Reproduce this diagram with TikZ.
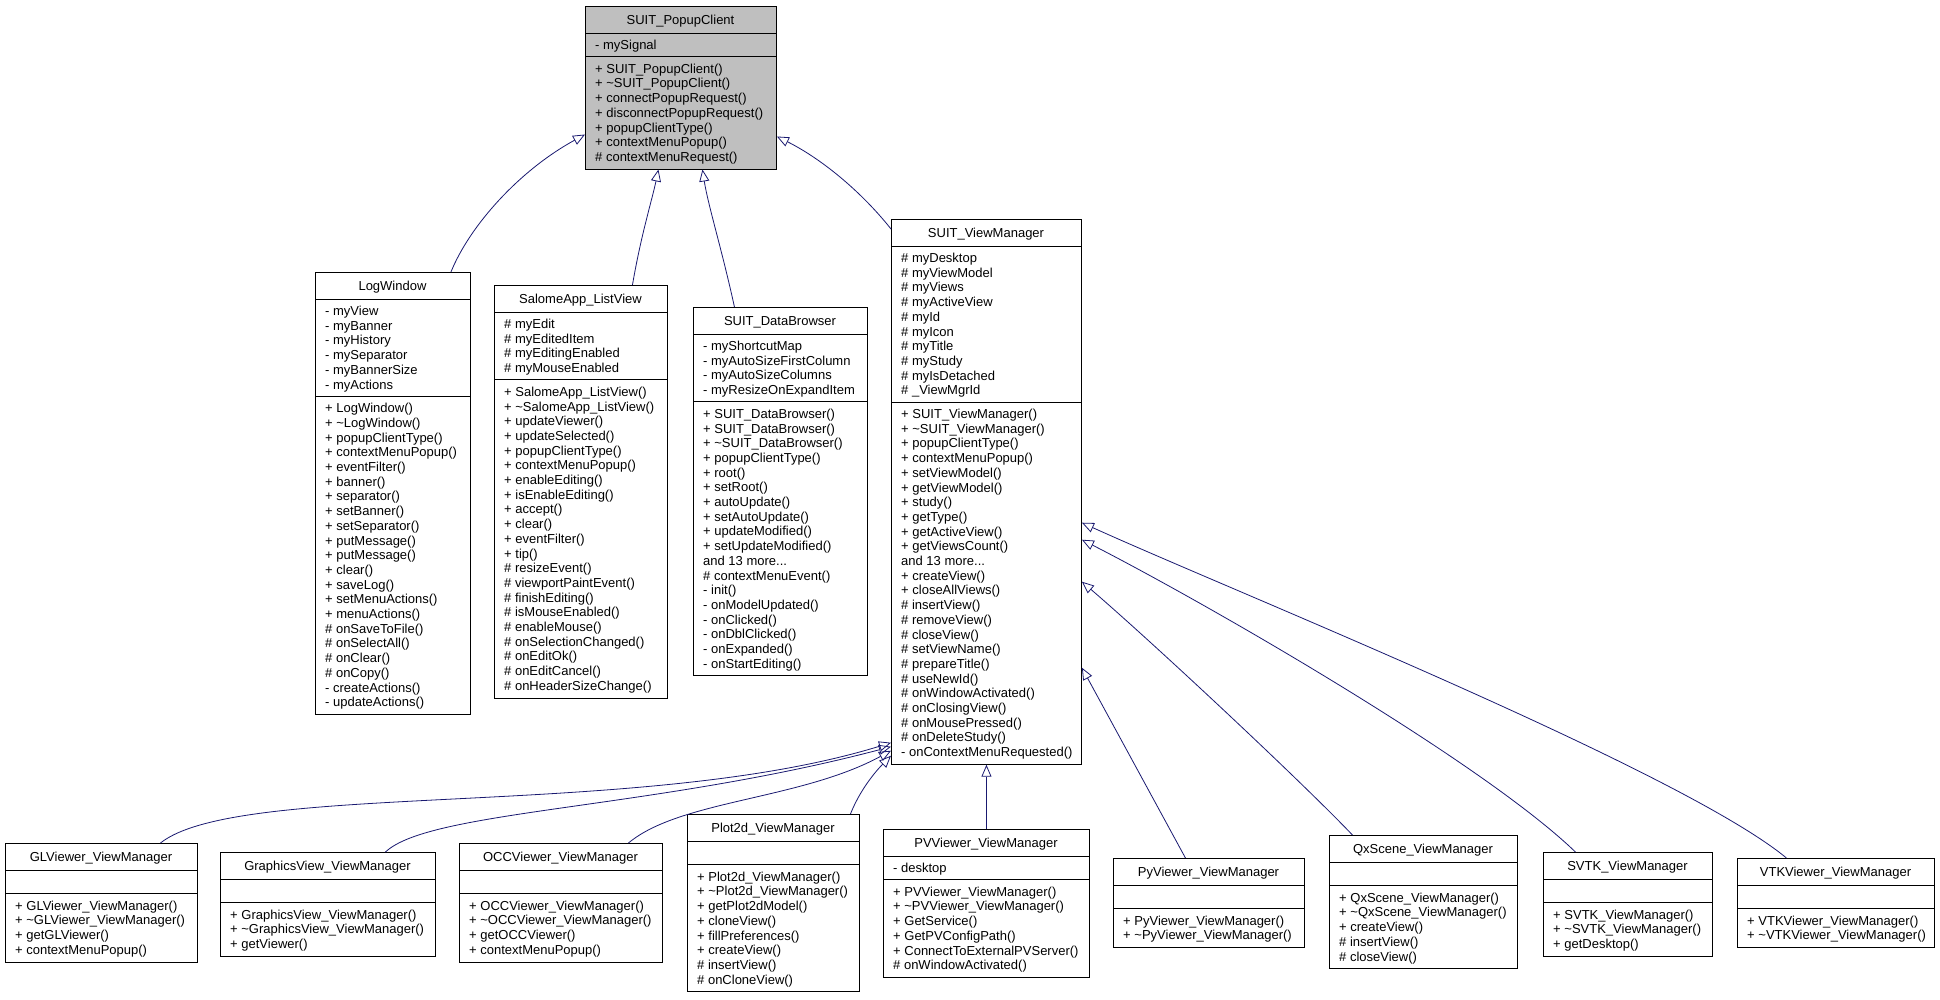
\documentclass[tikz,border=0pt]{standalone}
\usepackage{fontspec}
\setmainfont{Liberation Sans}
\usetikzlibrary{arrows.meta}
\definecolor{edgeblue}{RGB}{25,25,112}
\definecolor{boxgray}{RGB}{191,191,191}
\newcommand{\clsfont}{\fontsize{13}{14.7}\selectfont}
\def\rowh{14.7}
\def\titleh{27}
\def\secpad{9}
% name, x, y, width, #attrs, #methods, title, attrs, methods
\newcommand{\umlclass}[9]{%
  \pgfmathsetmacro\attrh{max(#5,1)*\rowh+\secpad}
  \pgfmathsetmacro\methh{#6*\rowh+\secpad}
  \node[classbox, box #1/.try, minimum width=#4, minimum height={\titleh+\attrh+\methh}] (#1) at (#2,#3) {};
  \draw[line width=0.9pt] (#2,{#3+\titleh}) -- ++(#4,0);
  \draw[line width=0.9pt] (#2,{#3+\titleh+\attrh}) -- ++(#4,0);
  \node[anchor=base] (#1-t) at ({#2+#4/2},{#3+18.2}) {#7};
  \ifnum#5>0
    \foreach \s [count=\i] in {#8}
      \node[anchor=base west] (#1-a\i) at ({#2+10},{#3+\titleh+16.5+(\i-1)*\rowh}) {\s};
  \fi
  \foreach \s [count=\i] in {#9}
    \node[anchor=base west] (#1-m\i) at ({#2+10},{#3+\titleh+\attrh+16.5+(\i-1)*\rowh}) {\s};
}
\newcommand{\tld}{\textasciitilde}
\newcommand{\more}{and 13 more...}

\begin{document}
\begin{tikzpicture}[x=1pt, y=-1pt,
    every node/.style={font=\clsfont, inner sep=0pt},
    classbox/.style={draw, line width=0.9pt, anchor=north west, inner sep=0pt},
    box pc/.style={fill=boxgray},
    inh/.style={draw=edgeblue, line width=0.8pt, -{Triangle[open, length=12pt, width=10pt]}}]
		%%%%% START %%%%%
		\useasboundingbox (0,0) rectangle (1940,999);
		
		\umlclass{pc}{585}{6}{191}{1}{7}{SUIT\_PopupClient}{- mySignal}
		  {+ SUIT\_PopupClient(), + \tld SUIT\_PopupClient(), + connectPopupRequest(), + disconnectPopupRequest(),
		   + popupClientType(), + contextMenuPopup(), \# contextMenuRequest()}
		
		\umlclass{lw}{315}{272}{155}{6}{21}{LogWindow}
		  {- myView, - myBanner, - myHistory, - mySeparator, - myBannerSize, - myActions}
		  {+ LogWindow(), + \tld LogWindow(), + popupClientType(), + contextMenuPopup(), + eventFilter(),
		   + banner(), + separator(), + setBanner(), + setSeparator(), + putMessage(), + putMessage(),
		   + clear(), + saveLog(), + setMenuActions(), + menuActions(), \# onSaveToFile(),
		   \# onSelectAll(), \# onClear(), \# onCopy(), - createActions(), - updateActions()}
		
		\umlclass{lv}{494}{285}{173}{4}{21}{SalomeApp\_ListView}
		  {\# myEdit, \# myEditedItem, \# myEditingEnabled, \# myMouseEnabled}
		  {+ SalomeApp\_ListView(), + \tld SalomeApp\_ListView(), + updateViewer(), + updateSelected(),
		   + popupClientType(), + contextMenuPopup(), + enableEditing(), + isEnableEditing(), + accept(),
		   + clear(), + eventFilter(), + tip(), \# resizeEvent(), \# viewportPaintEvent(), \# finishEditing(),
		   \# isMouseEnabled(), \# enableMouse(), \# onSelectionChanged(), \# onEditOk(), \# onEditCancel(),
		   \# onHeaderSizeChange()}
		
		\umlclass{db}{693}{307}{174}{4}{18}{SUIT\_DataBrowser}
		  {- myShortcutMap, - myAutoSizeFirstColumn, - myAutoSizeColumns, - myResizeOnExpandItem}
		  {+ SUIT\_DataBrowser(), + SUIT\_DataBrowser(), + \tld SUIT\_DataBrowser(), + popupClientType(),
		   + root(), + setRoot(), + autoUpdate(), + setAutoUpdate(), + updateModified(),
		   + setUpdateModified(), \more, \# contextMenuEvent(), - init(), - onModelUpdated(),
		   - onClicked(), - onDblClicked(), - onExpanded(), - onStartEditing()}
		
		\umlclass{vm}{891}{219}{190}{10}{24}{SUIT\_ViewManager}
		  {\# myDesktop, \# myViewModel, \# myViews, \# myActiveView, \# myId, \# myIcon, \# myTitle,
		   \# myStudy, \# myIsDetached, \# \_ViewMgrId}
		  {+ SUIT\_ViewManager(), + \tld SUIT\_ViewManager(), + popupClientType(), + contextMenuPopup(),
		   + setViewModel(), + getViewModel(), + study(), + getType(), + getActiveView(),
		   + getViewsCount(), \more, + createView(), + closeAllViews(), \# insertView(),
		   \# removeView(), \# closeView(), \# setViewName(), \# prepareTitle(), \# useNewId(),
		   \# onWindowActivated(), \# onClosingView(), \# onMousePressed(), \# onDeleteStudy(),
		   - onContextMenuRequested()}
		
		\umlclass{gl}{5}{843}{192}{0}{4}{GLViewer\_ViewManager}{}
		  {+ GLViewer\_ViewManager(), + \tld GLViewer\_ViewManager(), + getGLViewer(), + contextMenuPopup()}
		\umlclass{gv}{220}{852}{215}{0}{3}{GraphicsView\_ViewManager}{}
		  {+ GraphicsView\_ViewManager(), + \tld GraphicsView\_ViewManager(), + getViewer()}
		\umlclass{occ}{459}{843}{203}{0}{4}{OCCViewer\_ViewManager}{}
		  {+ OCCViewer\_ViewManager(), + \tld OCCViewer\_ViewManager(), + getOCCViewer(), + contextMenuPopup()}
		\umlclass{p2d}{687}{814}{172}{0}{8}{Plot2d\_ViewManager}{}
		  {+ Plot2d\_ViewManager(), + \tld Plot2d\_ViewManager(), + getPlot2dModel(), + cloneView(),
		   + fillPreferences(), + createView(), \# insertView(), \# onCloneView()}
		\umlclass{pv}{883}{829}{206}{1}{6}{PVViewer\_ViewManager}{- desktop}
		  {+ PVViewer\_ViewManager(), + \tld PVViewer\_ViewManager(), + GetService(), + GetPVConfigPath(),
		   + ConnectToExternalPVServer(), \# onWindowActivated()}
		\umlclass{py}{1113}{858}{191}{0}{2}{PyViewer\_ViewManager}{}
		  {+ PyViewer\_ViewManager(), + \tld PyViewer\_ViewManager()}
		\umlclass{qx}{1329}{835}{188}{0}{5}{QxScene\_ViewManager}{}
		  {+ QxScene\_ViewManager(), + \tld QxScene\_ViewManager(), + createView(), \# insertView(), \# closeView()}
		\umlclass{svtk}{1543}{852}{169}{0}{3}{SVTK\_ViewManager}{}
		  {+ SVTK\_ViewManager(), + \tld SVTK\_ViewManager(), + getDesktop()}
		\umlclass{vtk}{1737}{858}{197}{0}{2}{VTKViewer\_ViewManager}{}
		  {+ VTKViewer\_ViewManager(), + \tld VTKViewer\_ViewManager()}
		
		% inheritance from SUIT_PopupClient
		\draw[inh] ([xshift=58]lw.north) .. controls (470,225) and (520,170) .. ([yshift=35]pc.south west);
		\draw[inh] ([xshift=51.5]lv.north) .. controls (641,235) and (652,200) .. ([xshift=-22.5]pc.south);
		\draw[inh] ([xshift=-46]db.north) .. controls (722,250) and (708,205) .. ([xshift=21.5]pc.south);
		\draw[inh] ([yshift=-10]vm.north west) .. controls (860,190) and (820,158) .. ([yshift=33]pc.south east);
		
		% inheritance from SUIT_ViewManager
		\draw[inh] ([xshift=59]gl.north) .. controls (240,780) and (640,820) .. ([yshift=22]vm.south west);
		\draw[inh] ([xshift=57.5]gv.north) .. controls (430,810) and (650,810) .. ([yshift=18]vm.south west);
		\draw[inh] ([xshift=67.5]occ.north) .. controls (680,800) and (800,800) .. ([yshift=14]vm.south west);
		\draw[inh] ([xshift=77]p2d.north) .. controls (860,790) and (875,772) .. ([yshift=9]vm.south west);
		\draw[inh] (pv.north) -- (vm.south);
		\draw[inh] ([xshift=-23.5]py.north) -- ([yshift=97]vm.south east);
		\draw[inh] ([xshift=-71]qx.north) .. controls (1300,780) and (1150,640) .. ([yshift=183]vm.south east);
		\draw[inh] ([xshift=-52.5]svtk.north) .. controls (1480,760) and (1200,600) .. ([yshift=225]vm.south east);
		\draw[inh] ([xshift=-49.5]vtk.north) .. controls (1680,770) and (1230,590) .. ([yshift=242]vm.south east);
		
		%%%%% END %%%%%
\end{tikzpicture}
\end{document}
